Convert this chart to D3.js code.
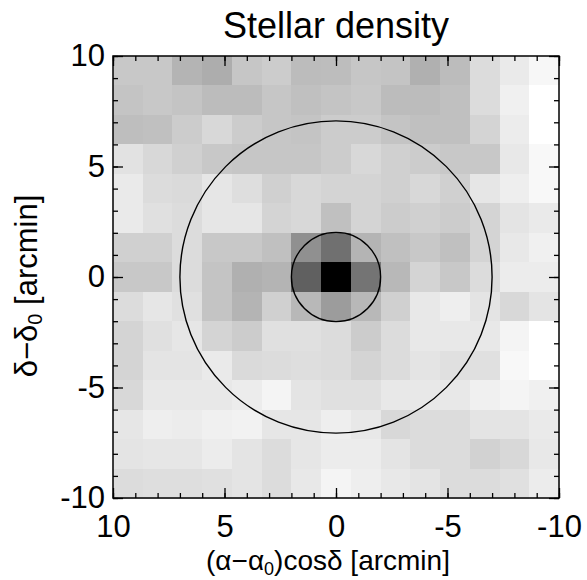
<!DOCTYPE html>
<html>
<head>
<meta charset="utf-8">
<script src="https://cdn.jsdelivr.net/npm/d3@7"></script>
<style>
  body { margin: 0; background: #fff; }
  text { font-family: "Liberation Sans", Arial, Helvetica, sans-serif; }
</style>
</head>
<body>
<div id="chart"></div>
<script>
// stellar density map, 15x15 bins, rows from top (dec +10) to bottom (dec -10),
// columns from left (ra +10) to right (ra -10). values = darkness of the cell
var density = [
  [55,55,75,82,57,51,67,66,57,59,79,67,35,21,8],
  [59,55,59,67,67,57,63,59,55,67,67,63,35,15,0],
  [65,63,51,39,51,57,59,51,51,59,63,63,43,19,0],
  [29,39,47,55,57,57,57,51,39,47,51,55,55,23,7],
  [21,35,37,25,33,47,39,43,43,47,39,47,25,17,7],
  [21,31,35,25,25,43,39,63,43,51,47,51,43,27,21],
  [47,47,35,55,55,63,111,143,75,63,55,63,43,23,15],
  [55,55,35,59,79,75,159,255,139,71,43,55,35,19,19],
  [35,25,31,59,75,47,71,99,71,47,23,17,27,39,27],
  [43,31,25,43,51,31,31,35,51,35,23,23,23,11,0],
  [43,27,27,21,37,35,33,35,43,35,27,31,31,7,0],
  [39,23,23,23,19,11,27,31,31,23,23,23,15,11,15],
  [25,17,19,15,13,25,25,17,23,39,35,35,27,27,21],
  [27,25,25,19,27,35,25,19,19,27,35,35,45,39,23],
  [35,33,33,31,27,35,23,11,17,23,27,35,35,31,19]
];
var extent = [10, -10];           // arcmin, both axes
var circleRadii = [2, 7];         // arcmin
var majorTicks = [10, 5, 0, -5, -10];
var minorTicks = d3.range(-10, 11, 1);

var width = 587, height = 580;
var svg = d3.select("#chart").append("svg")
    .attr("width", width)
    .attr("height", height);

var x = d3.scaleLinear().domain(extent).range([113, 559]);
var y = d3.scaleLinear().domain(extent).range([56, 498]);
var color = d3.scaleLinear().domain([0, 255]).range(["#ffffff", "#000000"]);

var n = density.length;
var step = (extent[0] - extent[1]) / n;

var cells = [];
density.forEach(function(row, i) {
  row.forEach(function(v, j) {
    cells.push({ra: extent[0] - j * step, dec: extent[0] - i * step, v: v});
  });
});

svg.append("g")
  .selectAll("rect")
  .data(cells)
  .join("rect")
  .attr("x", d => x(d.ra))
  .attr("y", d => y(d.dec))
  .attr("width", d => x(d.ra - step) - x(d.ra) + 0.5)
  .attr("height", d => y(d.dec - step) - y(d.dec) + 0.5)
  .attr("fill", d => color(d.v))
  .attr("shape-rendering", "crispEdges");

// circles
svg.append("g")
  .selectAll("circle")
  .data(circleRadii)
  .join("circle")
  .attr("cx", x(0))
  .attr("cy", y(0))
  .attr("r", d => x(0) - x(d))
  .attr("fill", "none")
  .attr("stroke", "#000")
  .attr("stroke-width", 1.4);

// frame
svg.append("rect")
  .attr("x", x(10)).attr("y", y(10))
  .attr("width", x(-10) - x(10))
  .attr("height", y(-10) - y(10))
  .attr("fill", "none")
  .attr("stroke", "#000")
  .attr("stroke-width", 1.5);

function styleAxis(g) {
  g.select(".domain").remove();
  g.selectAll(".tick line").attr("stroke", "#000").attr("stroke-width", 1.3);
  g.selectAll(".tick text").attr("fill", "#000").style("font-size", "31px");
}

var fmt = d => String(d);
var H = y(-10), W = x(-10), L = x(10), T = y(10);

// minor ticks on all sides
svg.append("g").attr("transform", "translate(0," + H + ")")
  .call(d3.axisBottom(x).tickValues(minorTicks).tickSize(-5).tickFormat(""))
  .call(styleAxis);
svg.append("g").attr("transform", "translate(0," + T + ")")
  .call(d3.axisTop(x).tickValues(minorTicks).tickSize(-5).tickFormat(""))
  .call(styleAxis);
svg.append("g").attr("transform", "translate(" + L + ",0)")
  .call(d3.axisLeft(y).tickValues(minorTicks).tickSize(-5).tickFormat(""))
  .call(styleAxis);
svg.append("g").attr("transform", "translate(" + W + ",0)")
  .call(d3.axisRight(y).tickValues(minorTicks).tickSize(-5).tickFormat(""))
  .call(styleAxis);

// major ticks with labels
svg.append("g").attr("transform", "translate(0," + H + ")")
  .call(d3.axisBottom(x).tickValues(majorTicks).tickSize(-10).tickPadding(17).tickFormat(fmt))
  .call(styleAxis);
svg.append("g").attr("transform", "translate(0," + T + ")")
  .call(d3.axisTop(x).tickValues(majorTicks).tickSize(-10).tickFormat(""))
  .call(styleAxis);
svg.append("g").attr("transform", "translate(" + L + ",0)")
  .call(d3.axisLeft(y).tickValues(majorTicks).tickSize(-10).tickPadding(8).tickFormat(fmt))
  .call(styleAxis);
svg.append("g").attr("transform", "translate(" + W + ",0)")
  .call(d3.axisRight(y).tickValues(majorTicks).tickSize(-10).tickFormat(""))
  .call(styleAxis);

// title
svg.append("text")
  .attr("x", x(0))
  .attr("y", 38)
  .attr("text-anchor", "middle")
  .style("font-size", "36px")
  .text("Stellar density");

// x axis title
var xt = svg.append("text")
  .attr("x", 328)
  .attr("y", 570)
  .attr("text-anchor", "middle")
  .style("font-size", "28px");
xt.append("tspan").text("(\u03b1\u2212\u03b1");
xt.append("tspan").attr("baseline-shift", "-25%").style("font-size", "18px").text("0");
xt.append("tspan").text(")cos\u03b4 [arcmin]");

// y axis title
var yt = svg.append("text")
  .attr("transform", "translate(37,286) rotate(-90)")
  .attr("text-anchor", "middle")
  .style("font-size", "31px");
yt.append("tspan").text("\u03b4\u2212\u03b4");
yt.append("tspan").attr("baseline-shift", "-25%").style("font-size", "20px").text("0");
yt.append("tspan").text(" [arcmin]");
</script>
</body>
</html>
